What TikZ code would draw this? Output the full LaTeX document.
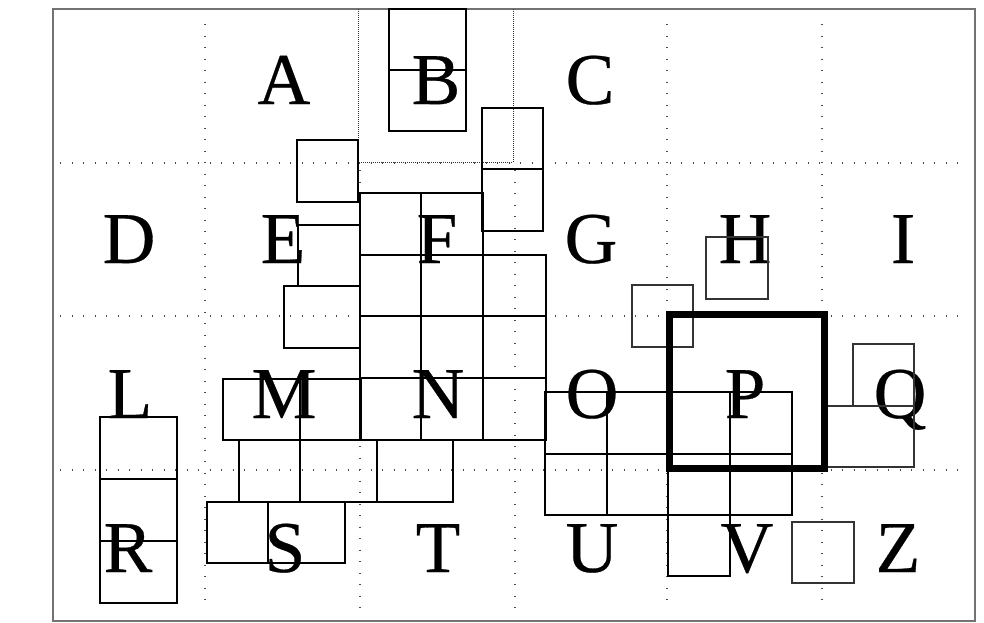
\documentclass[tikz,border=0pt]{standalone}
\usepackage{fontspec}
\setmainfont{Liberation Serif}
\newfontfamily\lettfont{Liberation Serif}[FakeBold=0.4]
\begin{document}
\begin{tikzpicture}[x=1pt,y=-1pt,
  letter/.style={anchor=base,inner sep=0pt,font=\lettfont\fontsize{73}{73}\selectfont},
  box/.style={draw=black,line width=1.8pt},
  lightbox/.style={draw=black!80,line width=1.4pt},
  griddot/.style={draw=black!70,line width=1.6pt,dash pattern=on 1.4pt off 10.1pt},
  densedot/.style={draw=black!80,line width=1pt,dash pattern=on 1pt off 1pt},
  framebox/.style={draw=black!55,line width=1.1pt},
  thickbox/.style={draw=black,line width=7pt}]
\useasboundingbox (0,0) rectangle (984,622);
\fill[white] (0,0) rectangle (984,622);
% frame
\draw[framebox] (53,9) rectangle (975,621);
% dotted grid
\foreach \gx in {205,667,822} {\draw[griddot] (\gx,24) -- (\gx,610);}
\foreach \gx in {360,515} {\draw[griddot] (\gx,170) -- (\gx,610);}
\foreach \gy in {163,316,470} {\draw[griddot] (60,\gy) -- (965,\gy);}
\draw[densedot] (358,9) -- (358,162) -- (513,162) -- (513,9);
% letters
\node[letter] (A) at (284,104) {A};
\node[letter] (B) at (436,104) {B};
\node[letter] (C) at (590,104) {C};
\node[letter] (D) at (129,263) {D};
\node[letter] (E) at (283,263) {E};
\node[letter] (F) at (437,263) {F};
\node[letter] (G) at (591,263) {G};
\node[letter] (H) at (745,263) {H};
\node[letter] (I) at (903,263) {I};
\node[letter] (L) at (130,418) {L};
\node[letter] (M) at (284,418) {M};
\node[letter] (N) at (438,418) {N};
\node[letter] (O) at (592,418) {O};
\node[letter] (P) at (745,418) {P};
\node[letter] (Q) at (900,418) {Q};
\node[letter] (R) at (128,572) {R};
\node[letter] (S) at (285,572) {S};
\node[letter] (T) at (438,572) {T};
\node[letter] (U) at (592,572) {U};
\node[letter] (V) at (747,572) {V};
\node[letter] (Z) at (898,572) {Z};
% B box
\draw[box] (389,9) rectangle (466,131);
\draw[box] (389,70) -- (466,70);
% top middle squares
\draw[box] (297,140) rectangle (358,202);
\draw[box] (482,108) rectangle (543,169);
\draw[box] (482,169) rectangle (543,231);
% F / N block
\draw[box] (360,193) rectangle (421,255);
\draw[box] (421,193) rectangle (483,255);
\foreach \ya/\yb in {255/316,316/378,378/440} {
  \draw[box] (360,\ya) rectangle (421,\yb);
  \draw[box] (421,\ya) rectangle (483,\yb);
  \draw[box] (483,\ya) rectangle (546,\yb);
}
% E squares
\draw[box] (298,225) rectangle (360,286);
\draw[box] (284,286) rectangle (360,348);
% M row and below
\draw[box] (223,379) rectangle (300,440);
\draw[box] (300,379) rectangle (361,440);
\draw[box] (239,440) rectangle (300,502);
\draw[box] (300,440) rectangle (377,502);
\draw[box] (377,440) rectangle (453,502);
% S
\draw[box] (207,502) rectangle (268,563);
\draw[box] (268,502) rectangle (345,563);
% R column
\draw[box] (100,417) rectangle (177,479);
\draw[box] (100,479) rectangle (177,541);
\draw[box] (100,541) rectangle (177,603);
% O / P block
\draw[box] (545,392) rectangle (607,454);
\draw[box] (607,392) rectangle (730,454);
\draw[box] (730,392) rectangle (792,454);
\draw[box] (545,454) rectangle (607,515);
\draw[box] (607,454) rectangle (668,515);
\draw[box] (668,454) rectangle (730,515);
\draw[box] (730,454) rectangle (792,515);
\draw[box] (668,515) rectangle (730,576);
% lighter squares
\draw[lightbox] (632,285) rectangle (693,347);
\draw[lightbox] (706,237) rectangle (768,299);
\draw[lightbox] (853,344) rectangle (914,406);
\draw[lightbox] (823,406) rectangle (914,467);
\draw[lightbox] (792,522) rectangle (854,583);
% thick P box
\draw[thickbox] (669,314) rectangle (824,468);
\end{tikzpicture}
\end{document}
